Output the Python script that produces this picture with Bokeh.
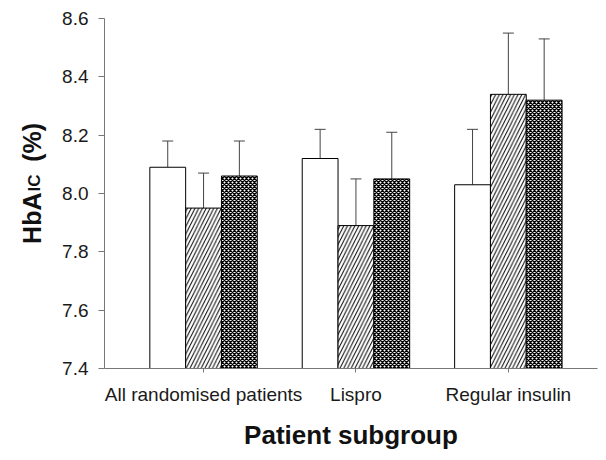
import math
from bokeh.plotting import figure
from bokeh.layouts import row
from bokeh.models import (ColumnDataSource, FixedTicker, Whisker, TeeHead,
                          Range1d, NumeralTickFormatter)
from bokeh.core.properties import value
from bokeh.transform import dodge
from bokeh.embed import file_html
from bokeh.resources import INLINE

# ---- data ----
groups = ["All randomised patients", "Lispro", "Regular insulin"]
group_pos = [1, 2, 3]
series_a_mean = [8.09, 8.12, 8.03]
series_a_upper = [8.18, 8.22, 8.22]
series_b_mean = [7.95, 7.89, 8.34]
series_b_upper = [8.07, 8.05, 8.55]
series_c_mean = [8.06, 8.05, 8.32]
series_c_upper = [8.18, 8.21, 8.53]
y_ticks = [7.4, 7.6, 7.8, 8.0, 8.2, 8.4, 8.6]
x_title = "Patient subgroup"
y_title_parts = ["HbA", "IC", "(%)"]

Y0, Y1 = 7.4, 8.6
X0, X1 = 0.35, 3.585
FONT = "Liberation Sans"
H = 452
LW = 56          # width of the y-title strip
TOP, BOTTOM = 18, 80

# ---- y-title strip (its own small figure; its frame is aligned with the main frame) ----
t = figure(width=LW, height=H, output_backend="svg", toolbar_location=None,
           x_range=Range1d(0, LW), y_range=Range1d(H - BOTTOM, TOP),
           x_axis_location=None, y_axis_location=None, min_border=0,
           min_border_top=TOP, min_border_bottom=BOTTOM)
t.outline_line_color = None
t.grid.visible = False
t.text(x=[31], y=[246], text=[y_title_parts[0]], angle=math.pi / 2,
       text_font=value(FONT), text_font_style="bold", text_font_size="25px",
       text_align="left", text_baseline="alphabetic", text_color="#111111")
t.text(x=[34], y=[193], text=[y_title_parts[1]], angle=math.pi / 2,
       text_font=value(FONT), text_font_style="bold", text_font_size="17px",
       text_align="left", text_baseline="alphabetic", text_color="#111111")
t.text(x=[31], y=[163], text=[y_title_parts[2]], angle=math.pi / 2,
       text_font=value(FONT), text_font_style="bold", text_font_size="25px",
       text_align="left", text_baseline="alphabetic", text_color="#111111")

# ---- main chart ----
p = figure(width=598 - LW, height=H, output_backend="svg", toolbar_location=None,
           x_range=Range1d(X0, X1), y_range=Range1d(Y0, Y1),
           min_border_left=104 - LW, min_border_right=1, min_border_top=TOP,
           min_border_bottom=BOTTOM)
p.outline_line_color = None
p.grid.visible = False
p.background_fill_color = "white"
p.border_fill_color = "white"

BW = 0.235
series = [
    (series_a_mean, series_a_upper, -BW, dict(fill_color="white")),
    (series_b_mean, series_b_upper, 0.0, dict(fill_color="white", hatch_pattern="right_diagonal_line",
                                             hatch_scale=7.5, hatch_weight=1.0, hatch_color="black")),
    (series_c_mean, series_c_upper, BW, dict(fill_color="white", hatch_pattern="diagonal_cross",
                                            hatch_scale=4.0, hatch_weight=1.4, hatch_color="black")),
]
for mean, upper, off, style in series:
    src = ColumnDataSource(dict(x=group_pos, top=mean, upper=upper))
    p.vbar(x=dodge("x", off), top="top", bottom=Y0, width=BW, source=src,
           line_color="black", line_width=1, **style)
    w = Whisker(base=dodge("x", off), upper="upper", lower="top", source=src,
                line_color="#444444", line_width=1,
                upper_head=TeeHead(size=11, line_color="#444444", line_width=1),
                lower_head=None)
    p.add_layout(w)

# axes
xa = p.xaxis[0]
xa.ticker = FixedTicker(ticks=group_pos)
xa.major_label_overrides = {g: lab for g, lab in zip(group_pos, groups)}
xa.major_tick_out = 4
xa.major_tick_in = 0
xa.minor_tick_line_color = None
xa.axis_line_color = "#777777"
xa.major_tick_line_color = "#777777"
xa.major_label_text_font = FONT
xa.major_label_text_font_size = "19px"
xa.major_label_text_color = "#1a1a1a"
xa.major_label_standoff = 11
xa.axis_label = x_title
xa.axis_label_text_font = FONT
xa.axis_label_text_font_style = "bold"
xa.axis_label_text_font_size = "26px"
xa.axis_label_text_color = "#111111"
xa.axis_label_standoff = 12

ya = p.yaxis[0]
ya.ticker = FixedTicker(ticks=y_ticks)
ya.formatter = NumeralTickFormatter(format="0.0")
ya.major_tick_out = 6
ya.major_tick_in = 0
ya.minor_tick_line_color = None
ya.axis_line_color = "#777777"
ya.major_tick_line_color = "#777777"
ya.major_label_text_font = FONT
ya.major_label_text_font_size = "19px"
ya.major_label_text_color = "#1a1a1a"
ya.major_label_standoff = 10

layout = row(t, p, spacing=0)
open("out.html", "w").write(file_html(layout, INLINE))
